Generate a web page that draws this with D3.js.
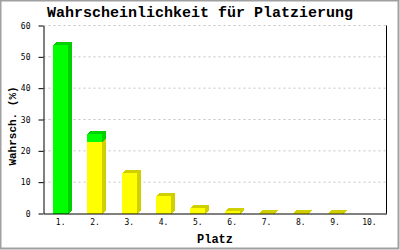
<!DOCTYPE html>
<html>
<head>
<meta charset="utf-8">
<script src="https://cdn.jsdelivr.net/npm/d3@7"></script>
<style>
  body { margin: 0; background: #fff; }
  svg { display: block; }
</style>
</head>
<body>
<div id="chart"></div>
<script>
// Data
const places = ["1.", "2.", "3.", "4.", "5.", "6.", "7.", "8.", "9.", "10."];
const yellowValues = [0, 22.9, 13.0, 5.7, 1.6, 0.7, 0.2, 0.2, 0.2, 0];
const greenValues = [53.7, 2.5, 0, 0, 0, 0, 0, 0, 0, 0];
const yTicks = [0, 10, 20, 30, 40, 50, 60];

function renderChart() {
  const svg = d3.select("#chart")
    .append("svg")
    .attr("width", 400)
    .attr("height", 250);

  // Outer frame
  svg.append("rect")
    .attr("x", 0.5).attr("y", 0.5)
    .attr("width", 398).attr("height", 248)
    .attr("fill", "#fff")
    .attr("stroke", "#a0a0a0")
    .attr("stroke-width", 2);

  const left = 43.5, right = 386.5, top = 25.5, bottom = 213.5;

  const x = d3.scaleBand()
    .domain(places)
    .range([left, right])
    .padding(0);

  const y = d3.scaleLinear()
    .domain([0, 60])
    .range([bottom, top]);

  // Dashed gridlines
  svg.append("g")
    .selectAll("line")
    .data(yTicks.filter(d => d > 0))
    .enter().append("line")
    .attr("x1", left)
    .attr("x2", right)
    .attr("y1", d => y(d))
    .attr("y2", d => y(d))
    .attr("stroke", "#c4c4c4")
    .attr("stroke-dasharray", "2,3");

  // Bars: front, side and top faces (3D look)
  const barW = 15, dx = 4, dy = 3;
  const series = [
    { values: yellowValues, base: () => 0, front: "#ffff00", dark: "#d0d000" },
    { values: greenValues, base: i => yellowValues[i], front: "#00ff00", dark: "#00d000" }
  ];

  const bars = svg.append("g").attr("shape-rendering", "crispEdges");

  series.forEach(s => {
    s.values.forEach((v, i) => {
      const b = s.base(i);
      const total = yellowValues[i] + greenValues[i];
      if (total <= 0 || v <= 0) return;
      const x0 = Math.round(x(places[i]) + x.bandwidth() / 2 - barW / 2);
      const x1 = x0 + barW;
      const y0 = Math.round(y(b));
      const y1 = Math.round(y(b + v));
      const isTop = Math.abs(b + v - total) < 1e-9;

      // side face
      bars.append("polygon")
        .attr("points", [[x1, y0], [x1 + dx, y0 - dy], [x1 + dx, y1 - dy], [x1, y1]].map(p => p.join(",")).join(" "))
        .attr("fill", s.dark);
      // top face
      if (isTop) {
        bars.append("polygon")
          .attr("points", [[x0, y1], [x0 + dx, y1 - dy], [x1 + dx, y1 - dy], [x1, y1]].map(p => p.join(",")).join(" "))
          .attr("fill", s.dark);
      }
      // front face
      bars.append("rect")
        .attr("x", x0)
        .attr("y", y1)
        .attr("width", barW)
        .attr("height", Math.max(0, y0 - y1))
        .attr("fill", s.front);
    });
  });

  // Left axis
  const yAxis = svg.append("g")
    .attr("transform", `translate(${left},0)`)
    .call(d3.axisLeft(y).tickValues(yTicks).tickSize(5).tickSizeOuter(0).tickPadding(8));
  yAxis.selectAll("text")
    .style("font-family", "'DejaVu Sans Mono', monospace")
    .style("font-size", "8px")
    .attr("fill", "#000");
  yAxis.selectAll("line, path").attr("stroke", "#000");

  // Bottom axis
  const xAxis = svg.append("g")
    .attr("transform", `translate(0,${bottom})`)
    .call(d3.axisBottom(x).tickSize(0).tickPadding(6));
  xAxis.selectAll("text")
    .style("font-family", "'DejaVu Sans Mono', monospace")
    .style("font-size", "8px")
    .attr("fill", "#000");
  xAxis.select("path").attr("stroke", "#000");

  // Right border line
  svg.append("line")
    .attr("x1", right).attr("x2", right)
    .attr("y1", top).attr("y2", bottom)
    .attr("stroke", "#000");

  // Title
  svg.append("text")
    .attr("x", 200)
    .attr("y", 17)
    .attr("text-anchor", "middle")
    .style("font-family", "'Liberation Mono', monospace")
    .style("font-size", "15px")
    .style("font-weight", "bold")
    .text("Wahrscheinlichkeit für Platzierung");

  // x axis label
  svg.append("text")
    .attr("x", (left + right) / 2)
    .attr("y", 243)
    .attr("text-anchor", "middle")
    .style("font-family", "'Liberation Mono', monospace")
    .style("font-size", "12px")
    .style("font-weight", "bold")
    .text("Platz");

  // y axis label
  svg.append("text")
    .attr("transform", "translate(16,126) rotate(-90)")
    .attr("text-anchor", "middle")
    .style("font-family", "'Liberation Mono', monospace")
    .style("font-size", "11px")
    .style("font-weight", "bold")
    .text("Wahrsch. (%)");
}

document.addEventListener('DOMContentLoaded', function() {
  renderChart();
});
</script>
</body>
</html>
